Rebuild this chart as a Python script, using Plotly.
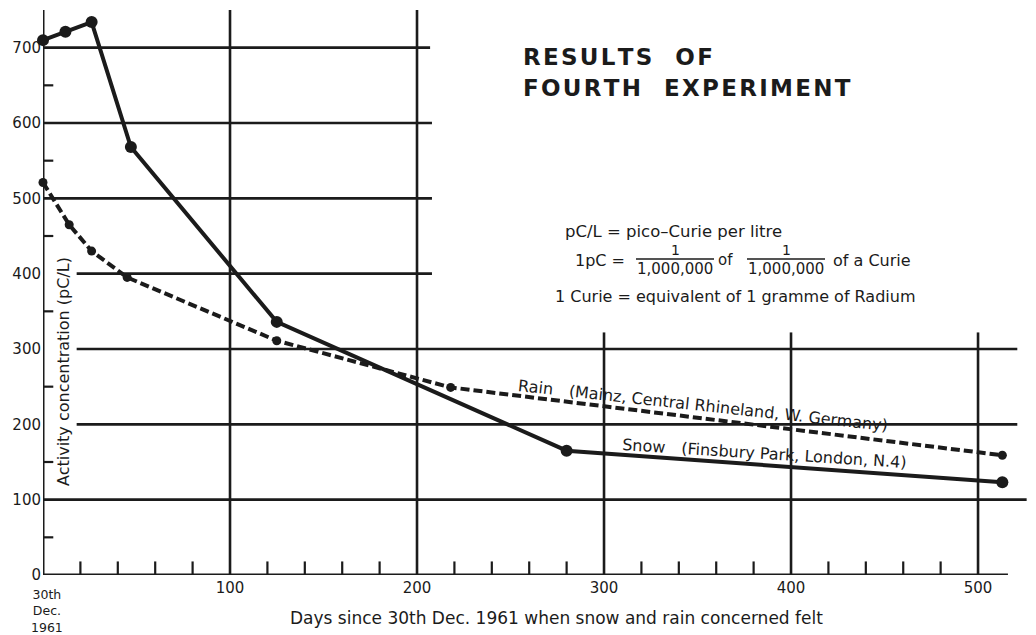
import plotly.graph_objects as go

# Activity concentration (pC/L) against days since 30th Dec. 1961
snow_days = [0, 12, 26, 47, 125, 280, 513]
snow_pcl = [710, 721, 734, 568, 336, 165, 123]
rain_days = [0, 14, 26, 45, 125, 218, 513]
rain_pcl = [521, 465, 430, 395, 311, 249, 159]

x_ticks = [100, 200, 300, 400, 500]
y_ticks = [0, 100, 200, 300, 400, 500, 600, 700]

INK = "#1b1b1b"
FONT = "DejaVu Sans"
W, H = 1036, 635
ML, MR, MT, MB = 43, 0, 10, 60
X_MAX, Y_MAX = 531, 750


def px(x):
    """page pixel column -> paper x"""
    return (x - ML) / (W - ML - MR)


def py(y):
    """page pixel row -> paper y"""
    return (H - MB - y) / (H - MT - MB)


fig = go.Figure()

fig.add_trace(go.Scatter(
    x=rain_days, y=rain_pcl, mode="lines+markers", name="Rain",
    line=dict(color=INK, width=4, dash="9px,4px"),
    marker=dict(color=INK, size=9), cliponaxis=False,
))
fig.add_trace(go.Scatter(
    x=snow_days, y=snow_pcl, mode="lines+markers", name="Snow",
    line=dict(color=INK, width=4),
    marker=dict(color=INK, size=12), cliponaxis=False,
))

shapes = []


def seg(x0, y0, x1, y1, w=2.6):
    shapes.append(dict(type="line", xref="x", yref="y", x0=x0, y0=y0, x1=x1, y1=y1,
                       line=dict(color=INK, width=w), layer="below"))


# axes
seg(0, 0, 0, Y_MAX, 3)
seg(0, 0, 516, 0, 3)
# horizontal rules
seg(0, 700, 207, 700)
seg(0, 600, 208, 600)
seg(0, 500, 208, 500)
seg(18, 400, 208, 400)
seg(18, 300, 521, 300)
seg(18, 200, 521, 200)
seg(0, 100, 526, 100)
# vertical rules
seg(100, 0, 100, Y_MAX)
seg(200, 0, 200, Y_MAX)
for xv in (300, 400, 500):
    seg(xv, 0, xv, 322)
# small ticks
for d in range(20, 500, 20):
    if d % 100:
        seg(d, 0, d, 18, 2.2)
for v in range(50, 700, 100):
    seg(0, v, 5.5, v, 2.2)

# fraction bars in the note
for a, b in ((636, 714), (747, 825)):
    shapes.append(dict(type="line", xref="paper", yref="paper",
                       x0=px(a), x1=px(b), y0=py(259), y1=py(259),
                       line=dict(color=INK, width=1.3)))

ann = []


def text(t, x, y, size=15, xanchor="center", angle=0, bold=False):
    ann.append(dict(text=f"<b>{t}</b>" if bold else t, xref="paper", yref="paper",
                    x=px(x), y=py(y), xanchor=xanchor, yanchor="middle",
                    textangle=angle, showarrow=False,
                    font=dict(family=FONT, size=size, color=INK)))


S = "\u200a"
text(S.join("RESULTS") + "\u2003" + S.join("OF"), 521, 57, 23, "left", bold=True)
text(S.join("FOURTH") + "\u2003" + S.join("EXPERIMENT"), 521, 88, 23, "left", bold=True)

text("pC/L = pico\u2013Curie per litre", 563, 232, 16.5, "left")
text("1pC =", 573, 260, 16, "left")
text("1", 675, 250, 14)
text("1,000,000", 675, 269, 15)
text("of", 716, 260, 15, "left")
text("1", 786, 250, 14)
text("1,000,000", 786, 269, 15)
text("of a Curie", 831, 260, 16, "left")
text("1 Curie = equivalent of 1 gramme of Radium", 553, 296, 16, "left")

text("Rain\u2003(Mainz, Central Rhineland, W. Germany)", 703, 406, 16, angle=6.2)
text("Snow\u2003(Finsbury Park, London, N.4)", 764, 454, 16, angle=3.6)

text("30th<br>Dec.<br>1961", 47, 611, 12.5)
text("Activity concentration (pC/L)", 63, 372, 16, angle=-90)
text("Days since 30th Dec. 1961 when snow and rain concerned felt", 556, 618, 17)

fig.update_layout(
    width=W, height=H,
    margin=dict(l=ML, r=MR, t=MT, b=MB),
    paper_bgcolor="white", plot_bgcolor="white",
    showlegend=False,
    shapes=shapes, annotations=ann,
    font=dict(family=FONT, color=INK),
    xaxis=dict(range=[0, X_MAX], showgrid=False, zeroline=False, showline=False,
               tickmode="array", tickvals=x_ticks, ticks="",
               ticklabelstandoff=2, tickfont=dict(size=15, family=FONT, color=INK)),
    yaxis=dict(range=[0, Y_MAX], showgrid=False, zeroline=False, showline=False,
               tickmode="array", tickvals=y_ticks, ticks="",
               ticklabelstandoff=1, tickfont=dict(size=15, family=FONT, color=INK)),
)

fig.write_html("out.html")
